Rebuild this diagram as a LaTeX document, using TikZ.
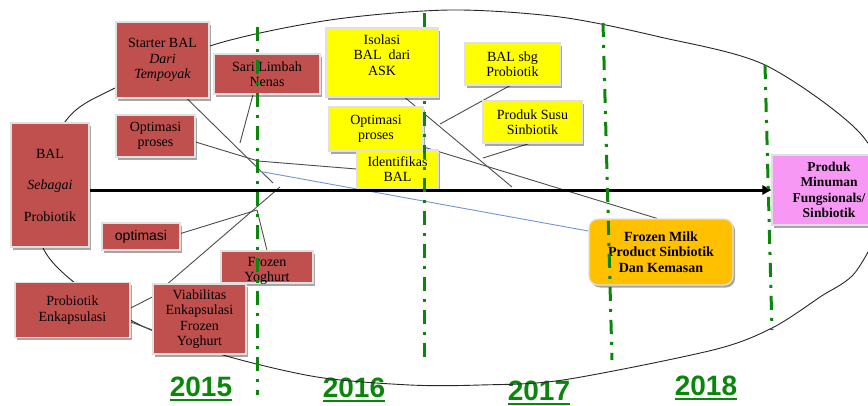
\documentclass[tikz,border=0pt]{standalone}
\usepackage{fontspec}
\setmainfont{Liberation Serif}
\newfontfamily\sansf{Liberation Sans}
\usetikzlibrary{shadows,arrows.meta}
\definecolor{boxred}{HTML}{C0504D}
\definecolor{boxyel}{HTML}{FFFF00}
\definecolor{boxorg}{HTML}{FFC000}
\definecolor{boxpink}{RGB}{247,152,245}
\definecolor{yrgreen}{RGB}{10,135,10}
\definecolor{linkblue}{RGB}{110,150,210}
\pgfdeclarelayer{bg}
\pgfdeclarelayer{conn}
\pgfdeclarelayer{fg}
\pgfdeclarelayer{top}
\pgfsetlayers{bg,conn,main,fg,top}
\begin{document}
\begin{tikzpicture}[x=1pt,y=-1pt,
  box/.style={draw=white!88!black, line width=1.2pt, align=center, inner sep=0pt,
    font=\fontsize{14}{15.5}\selectfont,
    drop shadow={shadow xshift=2pt,shadow yshift=-2.5pt,fill=black,opacity=0.35}},
  redb/.style={box, fill=boxred},
  yelb/.style={box, fill=boxyel},
  txt/.style={align=center, inner sep=0pt, font=\fontsize{14}{15.5}\selectfont},
  link/.style={draw=black!70, line width=0.9pt},
  year/.style={anchor=base, inner sep=0pt, text=yrgreen, font=\sansf\bfseries\fontsize{28}{30}\selectfont},
  yline/.style={draw=yrgreen, line width=2pt},
  gline/.style={draw=yrgreen, line width=3pt, dash pattern=on 14pt off 8pt on 3pt off 8pt},
  ell/.style={draw=black!85, line width=0.9pt}]
\useasboundingbox (0,0) rectangle (868,405);
\clip (0,0) rectangle (868,405);

% boxes (main layer)
\node[redb, minimum width=93pt, minimum height=76pt] (st) at (162.5,60) {Starter BAL\\\textit{Dari}\\\textit{Tempoyak}};
\node[redb, minimum width=106pt, minimum height=40pt] (sl) at (267,74) {Sari Limbah\\Nenas};
\node[redb, minimum width=79pt, minimum height=42pt] (op1) at (155.5,136) {Optimasi\\proses};
\node[redb, minimum width=78pt, minimum height=124pt] (bal) at (50,185) {BAL\\[16pt]\textit{Sebagai}\\[16pt]Probiotik};
\node[redb, minimum width=78pt, minimum height=27pt, font=\sansf\fontsize{14}{15.5}\selectfont] (opt) at (141,236.5) {optimasi};
\node[redb, minimum width=92pt, minimum height=32pt] (fy) at (267,267) {};
\node[txt] (fyt) at (267,271) {Frozen\\Yoghurt};
\node[redb, minimum width=115pt, minimum height=55pt] (pe) at (72.5,310) {Probiotik\\Enkapsulasi};
\node[redb, minimum width=93pt, minimum height=70pt] (vi) at (199.5,319) {Viabilitas\\Enkapsulasi\\Frozen\\Yoghurt};
\node[yelb, minimum width=95pt, minimum height=42pt] (bp) at (512.5,64) {BAL sbg\\Probiotik};
\node[yelb, minimum width=94pt, minimum height=44pt] (op2) at (376,129) {Optimasi\\proses};
\node[yelb, minimum width=99pt, minimum height=42pt] (ps) at (532.5,122) {Produk Susu\\Sinbiotik};
\node[yelb, minimum width=81pt, minimum height=38pt] (id) at (397.5,169) {Identifikas\\BAL};
\node[box, fill=boxorg, rounded corners=9pt, minimum width=144pt, minimum height=66pt,
  font=\bfseries\fontsize{14}{15.5}\selectfont] (fm) at (661,252) {Frozen Milk\\Product Sinbiotik\\Dan Kemasan};
\node[box, fill=boxpink, minimum width=114pt, minimum height=70pt,
  font=\bfseries\fontsize{13.5}{15.5}\selectfont] (pm) at (829,190) {Produk\\Minuman\\Fungsionals/\\Sinbiotik};

\begin{pgfonlayer}{top}
\node[yelb, minimum width=112pt, minimum height=69pt] (iso) at (382,62.5) {};
\node[txt] (isot) at (382,55) {Isolasi\\BAL~~dari\\ASK};
\end{pgfonlayer}

% free ends of connectors
\coordinate (j1) at (273,183);
\coordinate (j2) at (240,143);
\coordinate (kb) at (258,161);
\coordinate (j3) at (258,171);
\coordinate (j4) at (257,210);
\coordinate (j5) at (280,187);
\coordinate (j6) at (512,187);
\coordinate (j7) at (440,124);
\coordinate (j8) at (483,158);

\begin{pgfonlayer}{bg}
\node[year] (y15) at (201,396) {2015};
\node[year] (y16) at (354,397) {2016};
\node[year] (y17) at (539,400) {2017};
\node[year] (y18) at (706,395) {2018};
\foreach \y in {y15,y16,y17,y18}
  \draw[yline] ([yshift=-4pt]\y.base west) -- ([yshift=-4pt]\y.base east);
\draw[ell] plot[smooth cycle] coordinates {(30,190) (43,248) (75,283) (140,325) (223,355)
  (317,377) (410,385) (480,385) (563,380) (713,350) (772,328) (820,297) (857,270) (888,200)
  (860,133) (765,65) (660,37) (560,17) (450,10) (330,20) (213,45) (115,88) (68,118)};
\end{pgfonlayer}

\begin{pgfonlayer}{conn}
\draw[link] ([xshift=24.5pt]st.south) -- (j1);
\draw[link] ([xshift=-14pt]sl.south) -- (j2);
\draw[link] ([yshift=-6pt]op1.east) -- (kb) -- (id.west);
\draw[draw=linkblue, line width=0.9pt] (j3) -- ([yshift=21pt]fm.west);
\draw[link] ([yshift=3pt]opt.east) -- (j4);
\draw[link] (fy.north) -- (j4);
\draw[link] ([xshift=-31.5pt]vi.north) -- (j5);
\draw[link] ([yshift=2pt]pe.east) -- ([yshift=22pt]vi.west);
\draw[link] ([yshift=-12pt]pe.east) -- ([yshift=-11pt]vi.west);
\draw[link] ([xshift=23pt]iso.south) -- (j6);
\draw[link] ([xshift=-2.5pt]bp.south) -- (j7);
\draw[link] ([xshift=-3.5pt]ps.south) -- (j8);
\draw[link] ([yshift=-18pt]op2.east) -- ([xshift=-4pt]fm.north);
\draw[line width=3pt, -{Triangle[length=9pt,width=9pt]}] ([yshift=-5pt]bal.east) -- (pm.west);
\end{pgfonlayer}

\begin{pgfonlayer}{fg}
\draw[gline] (257,27) -- (257,395);
\draw[gline] (424,13) -- (424,364);
\draw[gline] (603,23) -- (612,360);
\draw[gline] (765,65) -- (772,330);
\end{pgfonlayer}
\end{tikzpicture}
\end{document}
